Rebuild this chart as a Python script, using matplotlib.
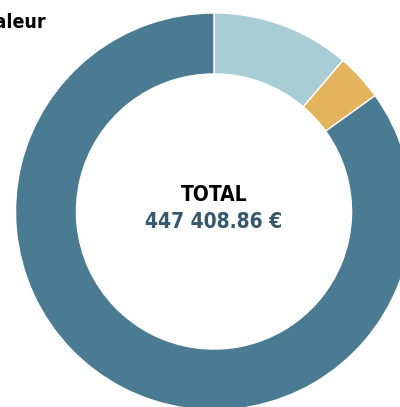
import matplotlib
matplotlib.use("Agg")
import matplotlib.pyplot as plt

# ==================================================
# DATA
# ==================================================

labels = ["Catégorie A", "Catégorie B", "Catégorie C"]
values = [50300, 17150, 379958.86]
colors = ["#a9cdd4", "#e3b45c", "#4a7b92"]

title = "Valeur"
total_label = "TOTAL"
total_text = "447 408.86 €"

plt.rcParams['font.family'] = ['DejaVu Sans']
plt.rcParams['font.stretch'] = 'condensed'

# ==================================================
# CHART
# ==================================================

fig = plt.figure(figsize=(4.0, 4.07), dpi=100)
ax = fig.add_axes([0, 0, 1, 1])

ax.pie(
    values,
    colors=colors,
    startangle=90,
    counterclock=False,
    radius=1,
    wedgeprops=dict(width=0.307, edgecolor="white", linewidth=1),
)

scale = 198.5
ax.set_xlim(-214 / scale, (400 - 214) / scale)
ax.set_ylim(-(407 - 211.5) / scale, 211.5 / scale)
ax.set_aspect("equal")
ax.axis("off")

ax.text(0, 0.085, total_label, ha="center", va="center",
        fontsize=15, fontweight="bold", color="black", stretch="condensed")
ax.text(0, -0.055, total_text, ha="center", va="center",
        fontsize=15, fontweight="bold", color="#34596f", stretch="condensed")

fig.text(-0.042, 0.945, title, ha="left", va="center",
         fontsize=14, fontweight="bold", color="black", stretch="condensed")

plt.savefig("out.png", dpi=100)
